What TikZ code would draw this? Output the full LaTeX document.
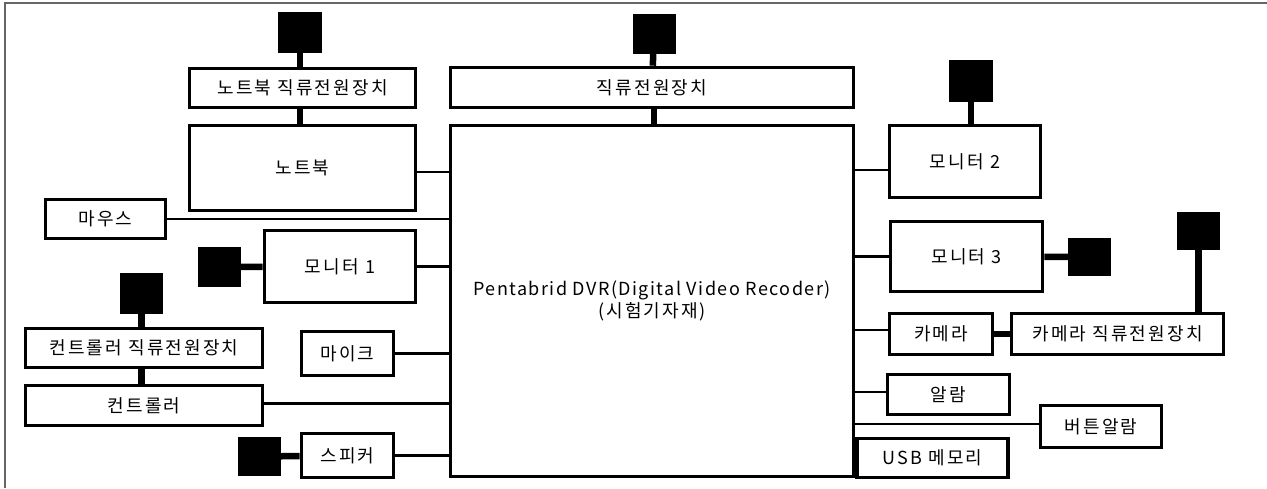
\documentclass[tikz,border=0pt]{standalone}
\usepackage{fontspec}
\newfontfamily\kr[LetterSpace=12]{Noto Sans CJK KR}
\newfontfamily\krlat[LetterSpace=8]{Noto Sans CJK KR}
\usepackage{tikz}
\tikzset{
    box/.style={draw, line width=3.6pt, inner sep=0pt, fill=white, font=\kr\fontsize{18}{22}\selectfont, align=center}, % 장치 상자
    pwr/.style={fill=black, inner sep=0pt, minimum width=43pt, minimum height=40pt}, % 전원 플러그
    link/.style={line width=2.9pt}, % DVR 연결선
    stem/.style={line width=6.5pt} % 전원 연결선
}
\begin{document}
\begin{tikzpicture}[x=1pt, y=-1pt]
    \useasboundingbox (0,0) rectangle (1267,488);
    \draw[gray!80!black, line width=1.6pt] (5,488) -- (5,3) -- (1267,3);

    % 가운데
    \node[box, minimum width=403pt, minimum height=40pt] (dc) at (652,87.5) {직류전원장치};
    \node[box, minimum width=403pt, minimum height=351pt] (dvr) at (652,301) {{\krlat Pentabrid DVR(Digital Video Recoder)}\\(시험기자재)};
    \node[pwr] (sqdc) at (654,33.5) {};

    % 왼쪽
    \node[box, minimum width=226pt, minimum height=39pt] (nbdc) at (302.5,88) {노트북 직류전원장치};
    \node[box, minimum width=226pt, minimum height=85pt] (nb) at (302.5,168) {노트북};
    \node[box, minimum width=120pt, minimum height=39pt] (mouse) at (105.5,219) {마우스};
    \node[box, minimum width=151pt, minimum height=72pt] (mon1) at (340,266.5) {모니터 1};
    \node[box, minimum width=237pt, minimum height=39pt] (ctldc) at (144,348) {컨트롤러 직류전원장치};
    \node[box, minimum width=237pt, minimum height=40pt] (ctl) at (144,405.5) {컨트롤러};
    \node[box, minimum width=92pt, minimum height=44pt] (mic) at (347.5,353.5) {마이크};
    \node[box, minimum width=92pt, minimum height=44pt] (spk) at (347.5,455.5) {스피커};
    \node[pwr, minimum width=44pt, minimum height=41pt] (sqnb) at (300,32.5) {};
    \node[pwr] (sqmon1) at (219.5,267) {};
    \node[pwr, minimum height=41pt] (sqctl) at (141.5,293.5) {};
    \node[pwr, minimum height=39pt] (sqspk) at (259.5,456.5) {};

    % 오른쪽
    \node[box, minimum width=151pt, minimum height=72pt] (mon2) at (965,161.5) {모니터 2};
    \node[box, minimum width=152pt, minimum height=70pt] (mon3) at (966.5,256.5) {모니터 3};
    \node[box, minimum width=103pt, minimum height=41pt] (cam) at (941,334) {카메라};
    \node[box, minimum width=212pt, minimum height=41pt] (camdc) at (1117.5,334) {카메라 직류전원장치};
    \node[box, minimum width=122pt, minimum height=40pt] (alarm) at (948.5,394.5) {알람};
    \node[box, minimum width=121pt, minimum height=42pt] (btn) at (1101,426.5) {버튼알람};
    \node[box, minimum width=151pt, minimum height=39pt] (usb) at (932.5,458) {USB 메모리};
    \node[pwr, minimum width=44pt, minimum height=42pt] (sqmon2) at (971,81) {};
    \node[pwr, minimum height=38pt] (sqmon3) at (1089.5,257) {};
    \node[pwr, minimum height=38pt] (sqcam) at (1198.5,231) {};

    % 전원 연결
    \draw[stem] (sqdc) -- (dc);
    \draw[stem] (sqdc.south |- dc.south) -- (sqdc.south |- dvr.north);
    \draw[stem] (sqnb) -- (sqnb.south |- nbdc.north);
    \draw[stem] (sqnb.south |- nbdc.south) -- (sqnb.south |- nb.north);
    \draw[stem] (sqctl.south) -- (sqctl.south |- ctldc.north);
    \draw[stem] (sqctl.south |- ctldc.south) -- (sqctl.south |- ctl.north);
    \draw[stem] (sqmon1) -- (mon1);
    \draw[stem] (sqspk) -- (spk);
    \draw[stem] (sqmon2) -- (sqmon2.south |- mon2.north);
    \draw[stem] (mon3) -- (sqmon3);
    \draw[stem] (cam) -- (camdc);
    \draw[stem] (sqcam.south) -- (sqcam.south |- camdc.north);

    % DVR 연결
    \draw[link] ([yshift=-4pt]nb.east) -- ([yshift=-4pt]nb.east -| dvr.west);
    \draw[link] (mouse.east) -- (mouse.east -| dvr.west);
    \draw[link] (mon1.east) -- (mon1.east -| dvr.west);
    \draw[link] (mic.east) -- (mic.east -| dvr.west);
    \draw[link] ([yshift=2pt]ctl.east) -- ([yshift=2pt]ctl.east -| dvr.west);
    \draw[link] (spk.east) -- (spk.east -| dvr.west);
    \draw[link] ([yshift=-8.5pt]mon2.west -| dvr.east) -- ([yshift=-8.5pt]mon2.west);
    \draw[link] (mon3.west -| dvr.east) -- (mon3.west);
    \draw[link] ([yshift=4pt]cam.west -| dvr.east) -- ([yshift=4pt]cam.west);
    \draw[link] ([yshift=2.5pt]alarm.west -| dvr.east) -- ([yshift=2.5pt]alarm.west);
    \draw[link] ([yshift=2.5pt]btn.west -| dvr.east) -- ([yshift=2.5pt]btn.west);
\end{tikzpicture}
\end{document}
